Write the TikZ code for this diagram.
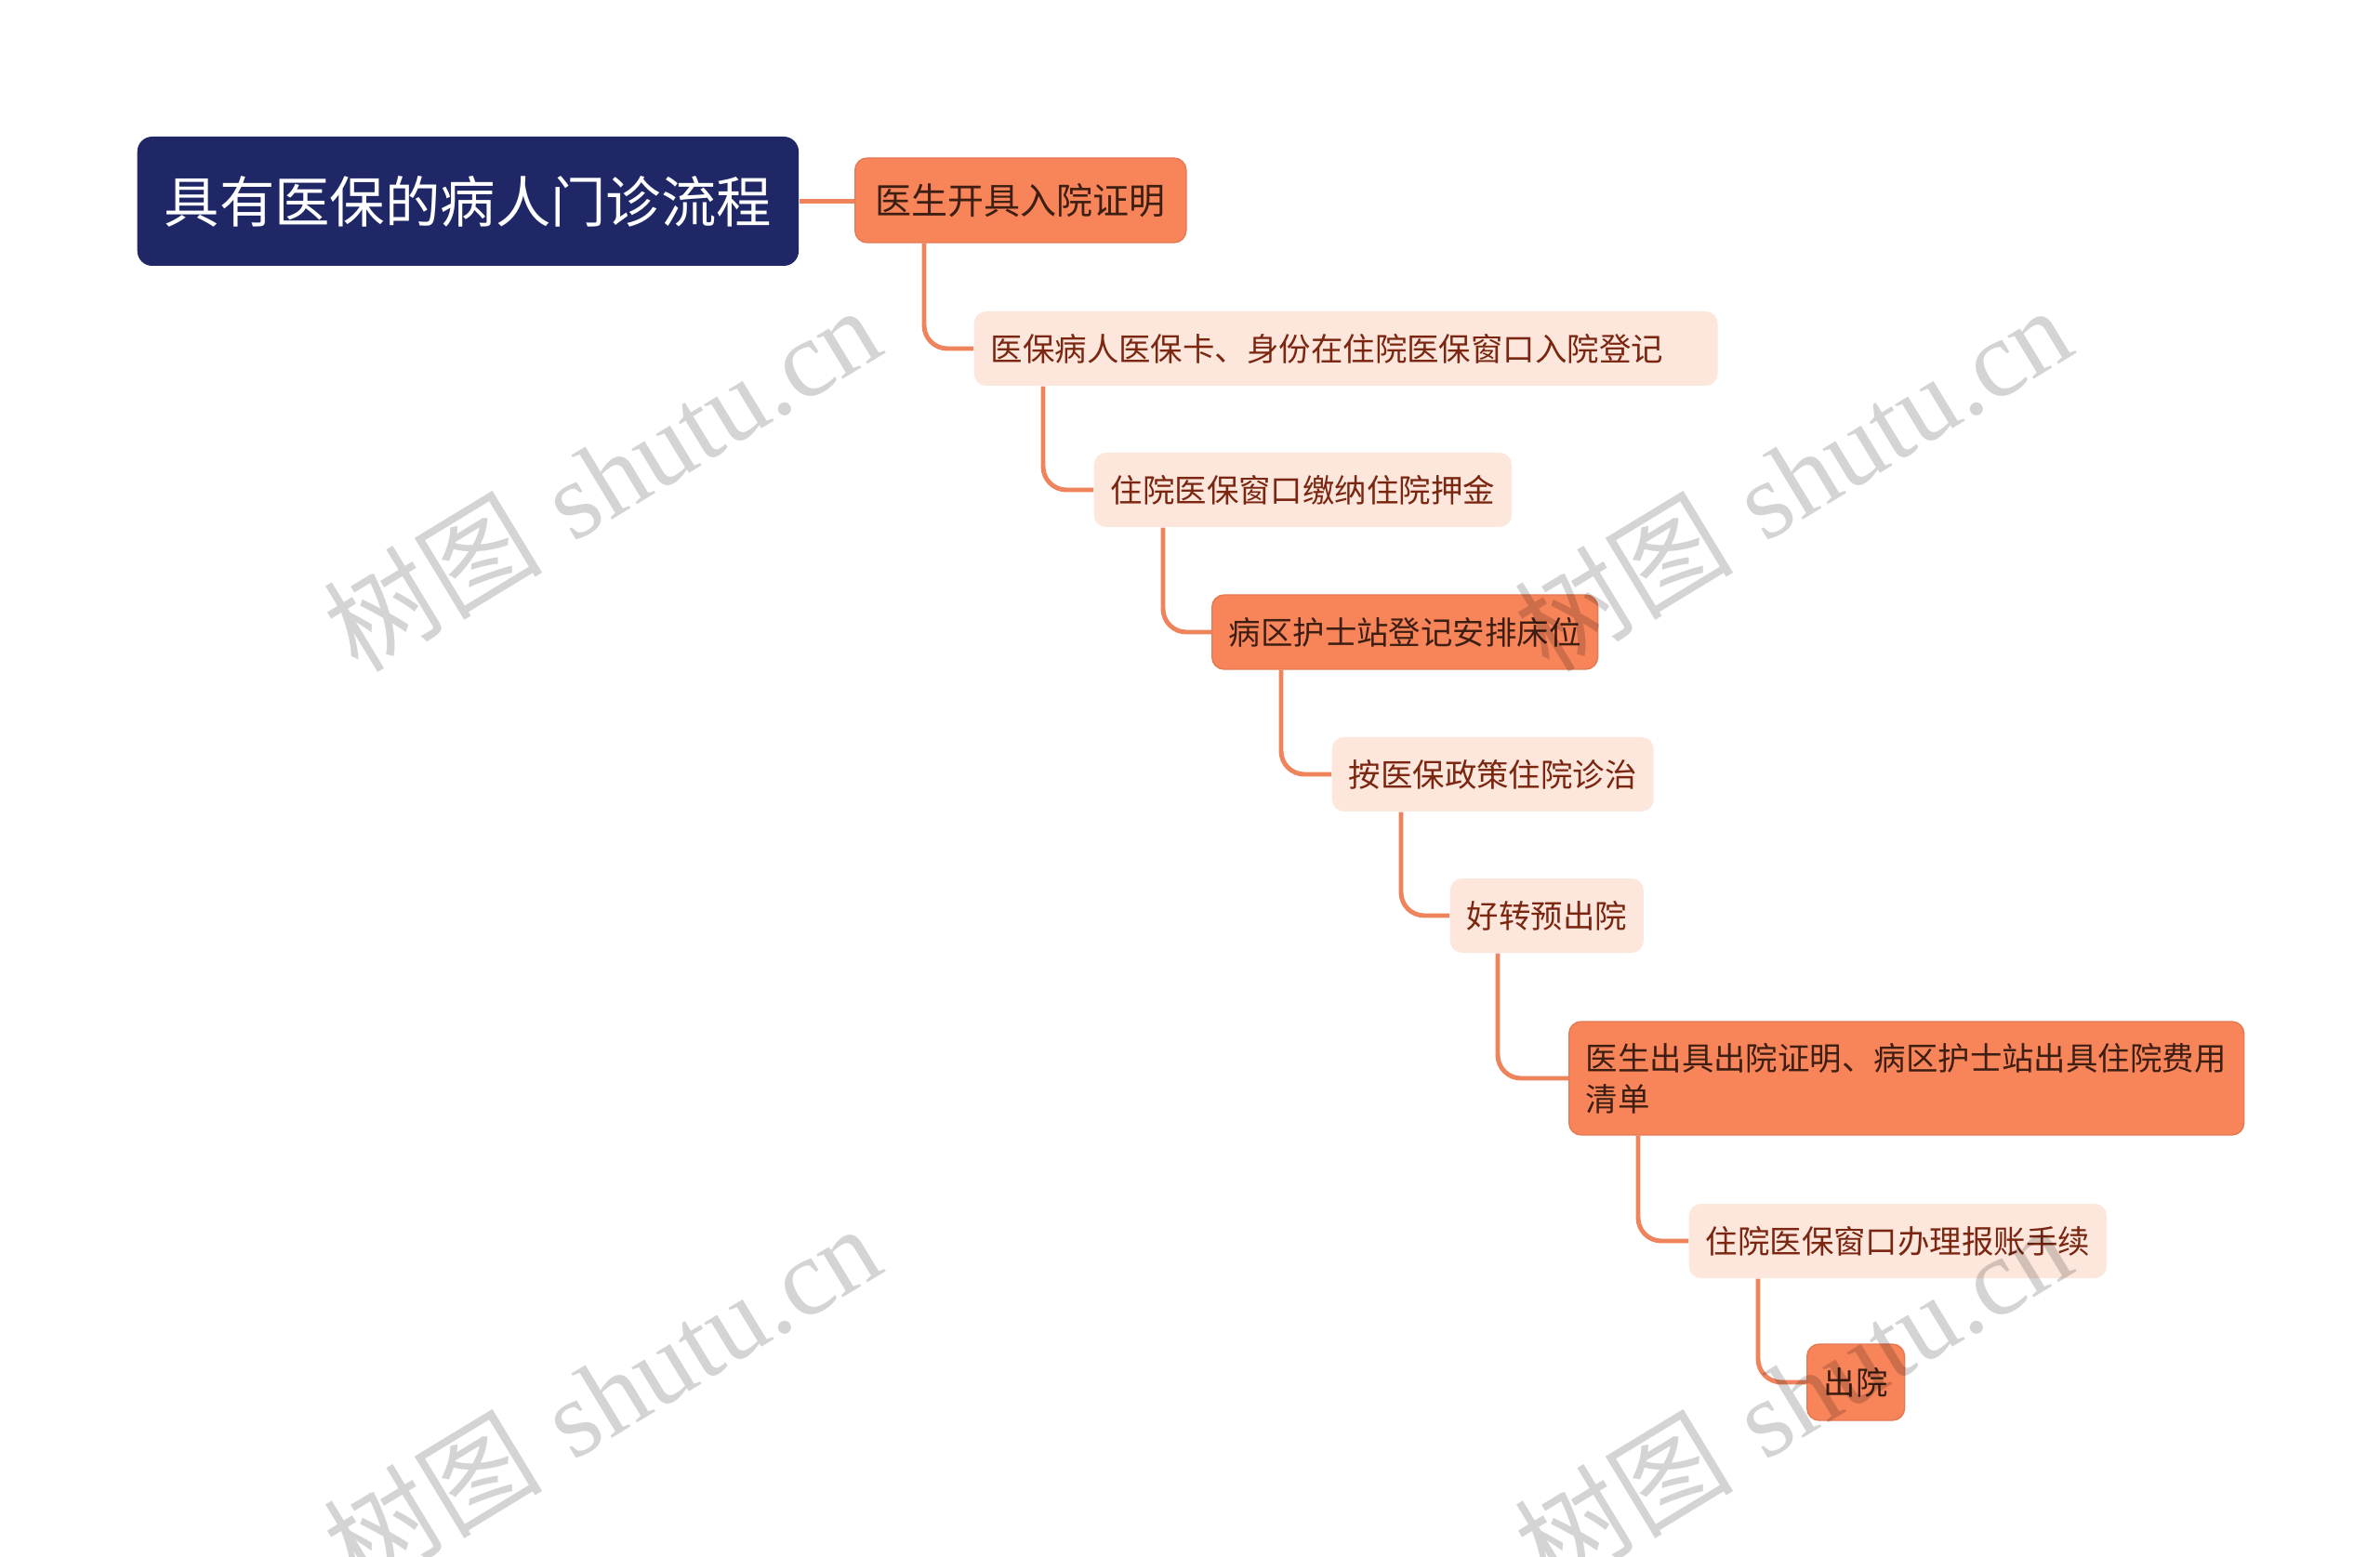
\documentclass[tikz,border=0pt]{standalone}
\usepackage{fontspec}
\newfontfamily\cjk{Noto Sans CJK SC}
\newfontfamily\wmlatin{Liberation Serif}
\usepackage{tikz}
\usetikzlibrary{positioning, calc}
\usepackage{xcolor}
\definecolor{navy}{HTML}{1F2766}
\definecolor{mainorange}{HTML}{F8845A}
\definecolor{lightpink}{HTML}{FDE7DD}
\definecolor{linkorange}{HTML}{EF845C}
\definecolor{darktext}{HTML}{3C1E12}
\definecolor{redtext}{HTML}{7A2610}
\definecolor{wmgray}{HTML}{D4D4D4}
\tikzset{root/.style={fill=navy, text=white, rounded corners=0.16cm, anchor=west,
    minimum height=1.39cm, inner xsep=0.29cm, font=\cjk\fontsize{16.9pt}{20pt}\selectfont}}
\tikzset{keystep/.style={fill=mainorange, draw=mainorange!92!black, line width=0.4pt, text=darktext,
    rounded corners=0.13cm, anchor=west, minimum height=0.8cm, inner xsep=0.18cm,
    font=\cjk\fontsize{9.8pt}{12.5pt}\selectfont}}
\tikzset{substep/.style={fill=lightpink, text=redtext, rounded corners=0.13cm, anchor=west,
    minimum height=0.8cm, inner xsep=0.18cm, font=\cjk\fontsize{9.8pt}{12.5pt}\selectfont}}
\tikzset{branch/.style={draw=linkorange, line width=1.4pt, rounded corners=0.25cm}}
\tikzset{watermark/.style={text=wmgray, blend mode=multiply, rotate=31.3, inner sep=0pt,
    font=\fontsize{33.5pt}{38pt}\selectfont}}
\newcommand{\wmtext}{{\cjk 树图} {\wmlatin shutu.cn}}

\begin{document}
\begin{tikzpicture}
  \useasboundingbox[fill=white] (0,0) rectangle (25.6,-16.75);

  \node[root] (root) at (1.47,-2.165) {具有医保的病人门诊流程};

  \node[keystep, minimum height=0.91cm, inner xsep=0.22cm, font=\cjk\fontsize{11.1pt}{13pt}\selectfont] (n1)
    at (9.19,-2.155) {医生开具入院证明};
  \node[substep, text width=7.64cm, align=left] (n2) at (10.47,-3.75) {医保病人医保卡、身份在住院医保窗口入院登记};
  \node[substep] (n3) at (11.76,-5.27) {住院医保窗口缴纳住院押金};
  \node[keystep] (n4) at (13.03,-6.80) {病区护士站登记安排床位};
  \node[substep] (n5) at (14.32,-8.33) {按医保政策住院诊治};
  \node[substep] (n6) at (15.59,-9.85) {好转预出院};
  \node[keystep, minimum height=1.22cm, text width=6.9cm, align=left] (n7) at (16.87,-11.60)
    {医生出具出院证明、病区护士站出具住院费用\\清单};
  \node[substep] (n8) at (18.16,-13.35) {住院医保窗口办理报账手续};
  \node[keystep, minimum height=0.82cm] (n9) at (19.43,-14.87) {出院};

  % connectors
  \draw[branch] (root.east) -- (root.east -| n1.west);
  \foreach \a/\b/\off in {n1/n2/0.75, n2/n3/0.75, n3/n4/0.75, n4/n5/0.75, n5/n6/0.75,
                          n6/n7/0.52, n7/n8/0.75, n8/n9/0.75}
    \draw[branch] ($(\a.south west)+(\off,0)$) |- (\b.west);

  % watermarks
  \node[watermark] (wm1) at (6.47,-5.14) {\wmtext};
  \node[watermark] (wm2) at (19.28,-5.14) {\wmtext};
  \node[watermark] (wm3) at (6.47,-15.02) {\wmtext};
  \node[watermark] (wm4) at (19.28,-15.02) {\wmtext};
\end{tikzpicture}
\end{document}
